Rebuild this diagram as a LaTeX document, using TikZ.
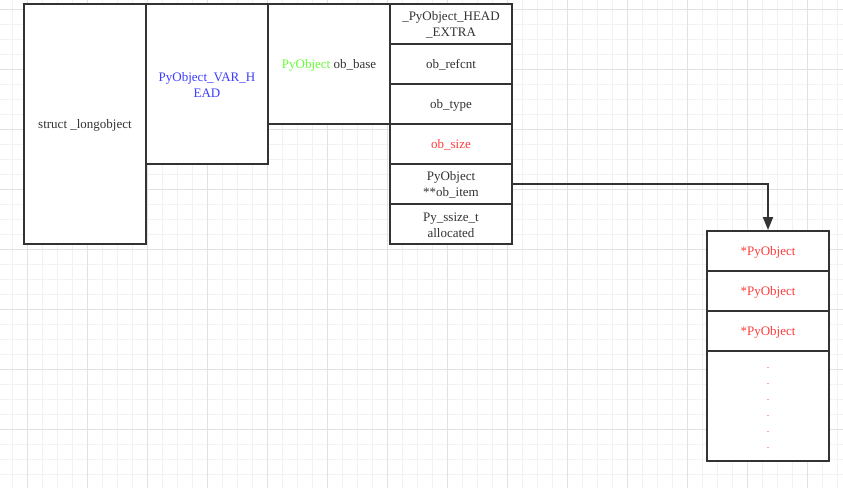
\documentclass[tikz,border=0pt]{standalone}
\usepackage{fontspec}
\setmainfont{Liberation Serif}
\usetikzlibrary{arrows.meta}
\definecolor{ink}{HTML}{333333}
\definecolor{gridminor}{HTML}{F2F2F2}
\definecolor{gridmajor}{HTML}{E2E2E2}
\definecolor{txtblue}{HTML}{3D3DFF}
\definecolor{txtgreen}{HTML}{66FF33}
\definecolor{txtred}{HTML}{FF3D3D}
\tikzset{
  box/.style={draw=ink, line width=2pt, fill=white, inner sep=0pt, align=center,
    text=ink, font=\fontsize{13}{16}\selectfont},
  cell/.style={box, minimum width=122pt, minimum height=40pt},
  lbl/.style={inner sep=0pt, align=center, text=ink, font=\fontsize{13}{16}\selectfont},
  link/.style={draw=ink, line width=2pt, -{Triangle[length=13pt,width=10pt]}}
}
\begin{document}
\begin{tikzpicture}[x=1pt,y=-1pt]
\useasboundingbox (0,0) rectangle (843,488);
% grid
\foreach \x in {12,27,...,843} \draw[gridminor, line width=1pt] (\x,0) -- (\x,488);
\foreach \y in {9,24,...,488} \draw[gridminor, line width=1pt] (0,\y) -- (843,\y);
\foreach \x in {27,87,...,843} \draw[gridmajor, line width=1pt] (\x,0) -- (\x,488);
\foreach \y in {9,69,...,488} \draw[gridmajor, line width=1pt] (0,\y) -- (843,\y);
% left structure
\node[box, minimum width=122pt, minimum height=240pt] (lobj) at (85,124) {};
\node[lbl] (lobjt) at (85,125) {struct \_longobject};
\node[box, minimum width=122pt, minimum height=160pt] (varhead) at (207,84) {};
\node[lbl, text=txtblue] (varheadt) at (207,85) {PyObject\_VAR\_H\\EAD};
\node[box, minimum width=122pt, minimum height=120pt] (obbase) at (329,64) {};
\node[lbl] (obbaset) at (329,65) {\textcolor{txtgreen}{PyObject} ob\_base};
% fields
\node[cell] (extra) at (451,24) {};
\node[lbl] at (451,25) {\_PyObject\_HEAD\\\_EXTRA};
\node[cell] (refcnt) at (451,64) {};
\node[lbl] at (451,65) {ob\_refcnt};
\node[cell] (type) at (451,104) {};
\node[lbl] at (451,105) {ob\_type};
\node[cell] (size) at (451,144) {};
\node[lbl, text=txtred] at (451,145) {ob\_size};
\node[cell] (item) at (451,184) {};
\node[lbl] at (451,185) {PyObject\\**ob\_item};
\node[cell] (alloc) at (451,224) {};
\node[lbl] at (451,225) {Py\_ssize\_t\\allocated};
% array of pointers
\node[cell] (p1) at (768,251) {};
\node[lbl, text=txtred] at (768,252) {*PyObject};
\node[cell] (p2) at (768,291) {};
\node[lbl, text=txtred] at (768,292) {*PyObject};
\node[cell] (p3) at (768,331) {};
\node[lbl, text=txtred] at (768,332) {*PyObject};
\node[box, minimum width=122pt, minimum height=110pt] (rest) at (768,406) {};
\foreach \i/\yy in {1/368,2/384,3/400,4/416,5/432,6/448}
  \node[text=txtred, font=\fontsize{10}{10}\selectfont, inner sep=0pt] (dot\i) at (768,\yy) {.};
% connector
\draw[link] (item.east) -| (p1.north);
\end{tikzpicture}
\end{document}
